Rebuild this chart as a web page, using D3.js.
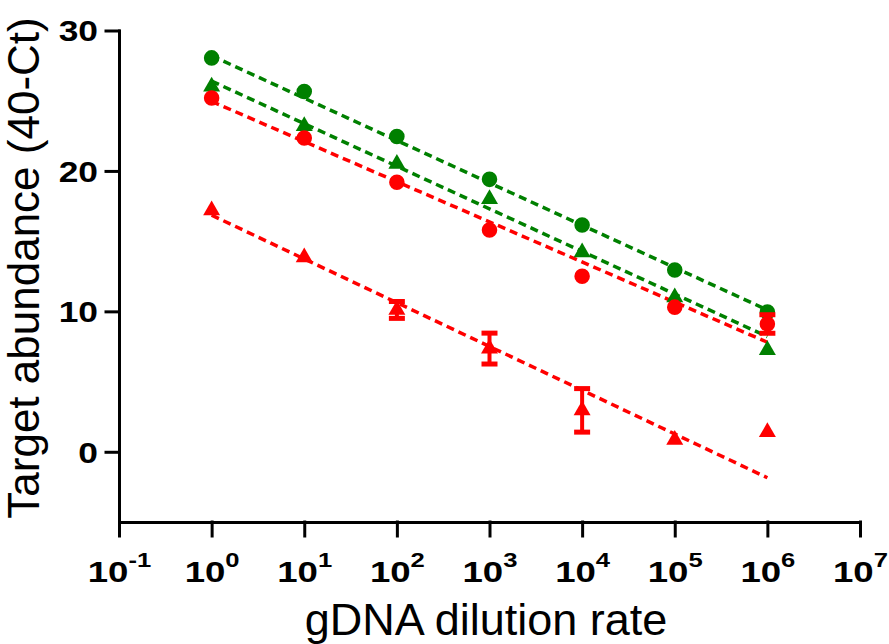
<!DOCTYPE html>
<html>
<head>
<meta charset="utf-8">
<script src="https://cdn.jsdelivr.net/npm/d3@7"></script>
<style>
  body { margin: 0; background: #fff; }
</style>
</head>
<body>
<div id="chart"></div>
<script>
// dilution steps (x) and the four series
var dilution = [1, 10, 100, 1e3, 1e4, 1e5, 1e6];
var greenCircle = [28.05, 25.65, 22.45, 19.4, 16.15, 12.95, 9.95];
var greenTriangle = [26.0, 23.2, 20.5, 18.0, 14.2, 11.0, 7.25];
var redCircle = [25.2, 22.35, 19.2, 15.8, 12.5, 10.3, 9.1];
var redCircleErr = [0, 0, 0, 0, 0, 0, 0.66];
var redTriangle = [17.2, 13.85, 10.1, 7.35, 2.95, 0.85, 1.4];
var redTriangleErr = [0, 0, 0.6, 1.1, 1.55, 0, 0];

// regression lines: value at 10^0 and at 10^6
var greenCircleFit = [28.2, 10.1];
var greenTriangleFit = [26.4, 8.2];
var redCircleFit = [24.95, 7.8];
var redTriangleFit = [16.85, -1.85];

var xTicks = [0.1, 1, 10, 100, 1e3, 1e4, 1e5, 1e6, 1e7];
var yTicks = [0, 10, 20, 30];

var width = 889, height = 644;
var green = "#008000", red = "#ff0000";
var stretch = 1.22; // tick labels in the figure are drawn wide

var svg = d3.select("#chart")
    .append("svg")
    .attr("width", width)
    .attr("height", height)
    .attr("font-family", "'Liberation Sans', Arial, sans-serif");

var x = d3.scaleLog().domain([0.1, 1e7]).range([119, 860]);
var y = d3.scaleLinear().domain([-5, 30]).range([522, 30.5]);

// series table built from the arrays above
var series = [
    {vals: greenCircle, err: null, fit: greenCircleFit, color: green, shape: "circle"},
    {vals: greenTriangle, err: null, fit: greenTriangleFit, color: green, shape: "triangle"},
    {vals: redCircle, err: redCircleErr, fit: redCircleFit, color: red, shape: "circle"},
    {vals: redTriangle, err: redTriangleErr, fit: redTriangleFit, color: red, shape: "triangle"}
];

// dashed fit lines first (under the markers)
var fitG = svg.append("g");
series.forEach(function(s) {
    fitG.append("line")
        .attr("x1", x(dilution[0]))
        .attr("y1", y(s.fit[0]))
        .attr("x2", x(dilution[dilution.length - 1]))
        .attr("y2", y(s.fit[1]))
        .attr("stroke", s.color)
        .attr("stroke-width", 3.5)
        .attr("stroke-dasharray", "8,5");
});

// markers + error bars
var circleSym = d3.symbol().type(d3.symbolCircle).size(190);
var triSym = d3.symbol().type(d3.symbolTriangle).size(125);

series.forEach(function(s) {
    var g = svg.append("g");
    var pts = dilution.map(function(d, i) {
        return {x: d, y: s.vals[i], e: s.err ? s.err[i] : 0};
    });

    var eb = g.selectAll(".eb").data(pts.filter(function(p) { return p.e > 0; }))
        .enter().append("g");
    eb.append("line")
        .attr("x1", function(p) { return x(p.x); })
        .attr("x2", function(p) { return x(p.x); })
        .attr("y1", function(p) { return y(p.y + p.e); })
        .attr("y2", function(p) { return y(p.y - p.e); })
        .attr("stroke", s.color)
        .attr("stroke-width", 4);
    [1, -1].forEach(function(sign) {
        eb.append("line")
            .attr("x1", function(p) { return x(p.x) - 8; })
            .attr("x2", function(p) { return x(p.x) + 8; })
            .attr("y1", function(p) { return y(p.y + sign * p.e); })
            .attr("y2", function(p) { return y(p.y + sign * p.e); })
            .attr("stroke", s.color)
            .attr("stroke-width", 5);
    });

    g.selectAll("path.pt").data(pts)
        .enter().append("path")
        .attr("class", "pt")
        .attr("d", s.shape == "circle" ? circleSym : triSym)
        .attr("transform", function(p) { return "translate(" + x(p.x) + "," + y(p.y) + ")"; })
        .attr("fill", s.color);
});

// axes
var xAxis = svg.append("g")
    .attr("transform", "translate(0," + 522 + ")")
    .call(d3.axisBottom(x).tickValues(xTicks).tickSize(14).tickSizeOuter(0)
        .tickFormat(function() { return ""; }));

xAxis.selectAll(".tick text").each(function(d) {
    var t = d3.select(this);
    var exp = Math.round(Math.log10(d));
    t.attr("font-size", 30).attr("font-weight", "bold").attr("fill", "#000")
        .attr("y", 60).attr("dy", null)
        .attr("transform", "scale(" + stretch + ",1)");
    t.append("tspan").text("10");
    t.append("tspan").text(exp).attr("font-size", 21).attr("dy", -15);
});

var yAxis = svg.append("g")
    .attr("transform", "translate(" + 119 + ",0)")
    .call(d3.axisLeft(y).tickValues(yTicks).tickSize(13).tickSizeOuter(0));

yAxis.selectAll(".tick text")
    .attr("font-size", 29)
    .attr("font-weight", "bold")
    .attr("fill", "#000")
    .attr("x", -21 / stretch)
    .attr("dy", "0.36em")
    .attr("transform", "scale(" + stretch + ",1)");

svg.selectAll(".domain, .tick line")
    .attr("stroke", "#000")
    .attr("stroke-width", 3)
    .attr("stroke-linecap", "square");

// axis titles
svg.append("text")
    .attr("x", 486)
    .attr("y", 635)
    .attr("text-anchor", "middle")
    .attr("font-size", 45)
    .text("gDNA dilution rate");

svg.append("text")
    .attr("transform", "translate(39,268) rotate(-90)")
    .attr("text-anchor", "middle")
    .attr("font-size", 44)
    .text("Target abundance (40-Ct)");
</script>
</body>
</html>
